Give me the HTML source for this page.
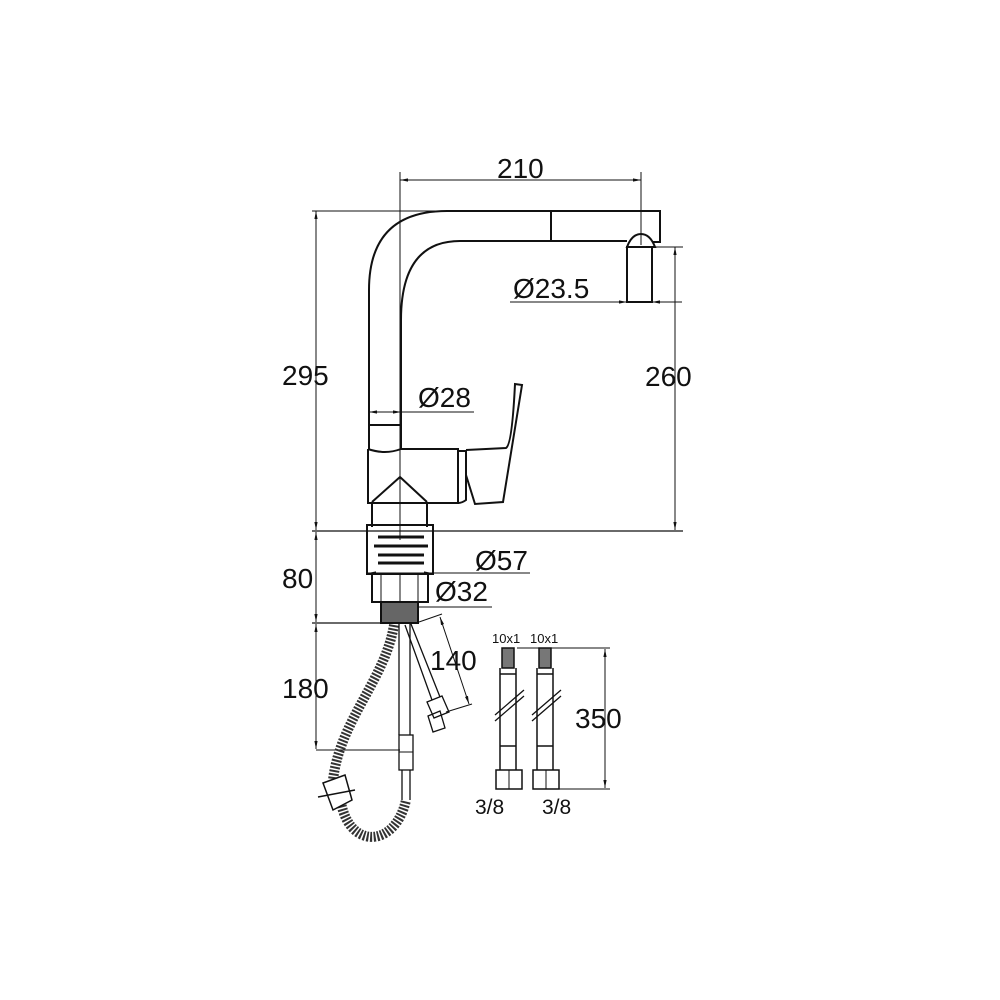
<!DOCTYPE html>
<html><head><meta charset="utf-8"><style>
html,body{margin:0;padding:0;background:#fff}
svg{display:block}
text{font-family:"Liberation Sans",sans-serif;fill:#111}
</style></head><body>
<svg width="1000" height="1000" viewBox="0 0 1000 1000" xmlns="http://www.w3.org/2000/svg">
<defs>
<marker id="a" viewBox="0 0 10 10" refX="10" refY="5" markerWidth="8" markerHeight="8" orient="auto-start-reverse"><path d="M0,3 L10,5 L0,7 Z" fill="#111"/></marker>
</defs>
<g fill="none" stroke="#111" stroke-width="1">
<line x1="400" y1="172" x2="400" y2="540"/>
<line x1="641" y1="172" x2="641" y2="245"/>
<line x1="400" y1="180" x2="641" y2="180" marker-start="url(#a)" marker-end="url(#a)"/>
<line x1="312" y1="211" x2="440" y2="211"/>
<line x1="316" y1="211" x2="316" y2="530" marker-start="url(#a)" marker-end="url(#a)"/>
<line x1="312" y1="531" x2="683" y2="531" stroke-width="1.3"/>
<line x1="652" y1="247" x2="683" y2="247"/>
<line x1="675" y1="247" x2="675" y2="530" marker-start="url(#a)" marker-end="url(#a)"/>
<line x1="510" y1="302" x2="627" y2="302" marker-end="url(#a)"/>
<line x1="652" y1="302" x2="682" y2="302" marker-start="url(#a)"/>
<line x1="369" y1="412" x2="474" y2="412"/>
<line x1="369" y1="412" x2="401" y2="412" marker-start="url(#a)" marker-end="url(#a)"/>
<line x1="316" y1="532" x2="316" y2="622" marker-start="url(#a)" marker-end="url(#a)"/>
<line x1="312" y1="623" x2="418" y2="623" stroke-width="1.3"/>
<line x1="316" y1="624" x2="316" y2="749" marker-start="url(#a)" marker-end="url(#a)"/>
<line x1="316" y1="750" x2="400" y2="750"/>
<line x1="367" y1="573" x2="530" y2="573"/>
<line x1="368" y1="573" x2="432" y2="573" marker-start="url(#a)" marker-end="url(#a)"/>
<line x1="418" y1="607" x2="492" y2="607"/>
<line x1="419" y1="622" x2="442" y2="614"/>
<line x1="446" y1="712" x2="472" y2="704"/>
<line x1="440" y1="617" x2="469" y2="704" marker-start="url(#a)" marker-end="url(#a)"/>
<line x1="517" y1="648" x2="610" y2="648"/>
<line x1="556" y1="789" x2="610" y2="789"/>
<line x1="605" y1="649" x2="605" y2="788" marker-start="url(#a)" marker-end="url(#a)"/>
</g>
<g fill="none" stroke="#111" stroke-width="2">
<path d="M369,450 L369,290 Q369,211 447,211 L660,211 L660,242 L652,242"/>
<path d="M401,449 L401,320 Q401,241 460,241 L627,241"/>
<line x1="551" y1="211" x2="551" y2="241"/>
<path d="M627,247 Q632,234 641,234 Q650,234 655,247 Z"/>
<rect x="627" y="247" width="25" height="55"/>
<line x1="369" y1="425" x2="401" y2="425"/>
<path d="M368,449 L368,503 L458,503 L458,449 L401,449 Q385,455 368,449"/>
<path d="M372,502 L400,477 L427,502"/>
<path d="M372,503 L372,527 M427,503 L427,527"/>
<line x1="400" y1="477" x2="400" y2="527" stroke-width="1"/>
<path d="M458,451 L466,451 L466,500 Q462,503 458,503"/>
<path d="M466,450 L506,448 Q512,445 515,384 L522,385 L503,502 L475,504 L466,475"/>
<rect x="367" y="525" width="66" height="49"/>
<g stroke-width="3"><line x1="378" y1="537" x2="424" y2="537"/><line x1="374" y1="546" x2="428" y2="546"/><line x1="378" y1="555" x2="424" y2="555"/><line x1="378" y1="563" x2="424" y2="563"/></g>
<rect x="372" y="574" width="56" height="28"/>
<g stroke-width="1"><line x1="381" y1="575" x2="381" y2="602"/><line x1="400" y1="575" x2="400" y2="602"/><line x1="418" y1="575" x2="418" y2="602"/></g>
<rect x="381" y="602" width="37" height="21" fill="#666"/>
<path d="M394,625 C385,680 340,720 333,780" stroke="#333" stroke-width="10" stroke-dasharray="2 1.5"/>
<path d="M340,795 C345,850 395,850 406,800" stroke="#333" stroke-width="10" stroke-dasharray="2 1.5"/>
<path d="M323,783 L345,775 L352,800 L333,810 Z" stroke-width="1.5" fill="#fff"/>
<line x1="318" y1="797" x2="355" y2="790" stroke-width="1.5"/>
<path d="M399,624 L399,735 M410,624 L410,735" stroke-width="1.3"/>
<rect x="399" y="735" width="14" height="35" stroke-width="1.3"/>
<line x1="399" y1="752" x2="413" y2="752" stroke-width="1"/>
<path d="M402,770 L402,800 M410,770 L410,800" stroke-width="1.3"/>
<path d="M405,625 L432,700 M411,624 L440,697" stroke-width="1.3"/>
<path d="M427,702 L442,696 L449,712 L434,718 Z" stroke-width="1.3"/>
<path d="M428,716 L440,711 L445,728 L433,732 Z" stroke-width="1.3"/>
<g stroke-width="1.5">
<rect x="502" y="648" width="12" height="20" fill="#777"/>
<path d="M500,668 L500,770 M516,668 L516,770"/>
<line x1="500" y1="674" x2="516" y2="674"/><line x1="500" y1="746" x2="516" y2="746"/>
<rect x="496" y="770" width="26" height="19"/>
<rect x="539" y="648" width="12" height="20" fill="#777"/>
<path d="M537,668 L537,770 M553,668 L553,770"/>
<line x1="537" y1="674" x2="553" y2="674"/><line x1="537" y1="746" x2="553" y2="746"/>
<rect x="533" y="770" width="26" height="19"/>
<path d="M495,715 L524,690 M495,721 L524,696 M532,715 L561,690 M532,721 L561,696" stroke-width="1.3"/>
</g>
<line x1="509" y1="770" x2="509" y2="789" stroke-width="1"/>
<line x1="546" y1="770" x2="546" y2="789" stroke-width="1"/>
</g>
<g font-size="28">
<text x="497" y="178">210</text>
<text x="282" y="385">295</text>
<text x="645" y="386">260</text>
<text x="513" y="298">Ø23.5</text>
<text x="418" y="407">Ø28</text>
<text x="475" y="570">Ø57</text>
<text x="435" y="601">Ø32</text>
<text x="282" y="588">80</text>
<text x="282" y="698">180</text>
<text x="430" y="670">140</text>
<text x="575" y="728">350</text>
<text x="475" y="814" font-size="21">3/8</text>
<text x="542" y="814" font-size="21">3/8</text>
<text x="492" y="643" font-size="13">10x1</text>
<text x="530" y="643" font-size="13">10x1</text>
</g>
</svg>
</body></html>
